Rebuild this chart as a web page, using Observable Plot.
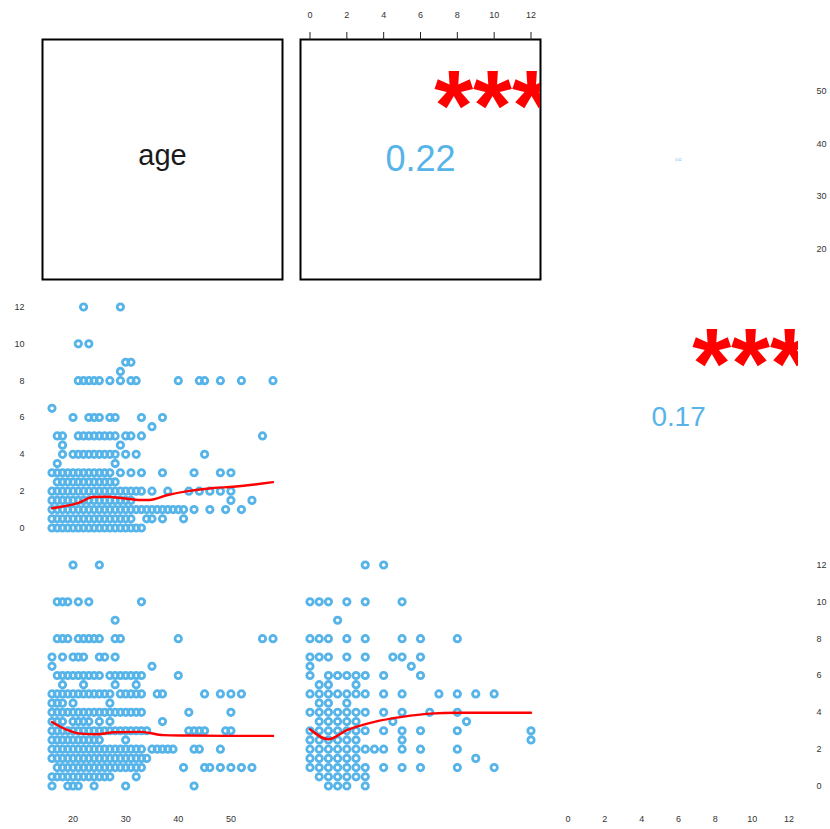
<!DOCTYPE html>
<html><head><meta charset="utf-8">
<script src="https://cdn.jsdelivr.net/npm/d3@7"></script>
<script src="https://cdn.jsdelivr.net/npm/@observablehq/plot@0.6"></script>
<style>
html,body{margin:0;padding:0;background:#fff;overflow:hidden;}
#chart{position:relative;width:830px;height:829px;}
#chart svg{position:absolute;left:0;top:0;}
#chart g[aria-label="dot"]{filter:blur(0.5px);}
#chart g[aria-label="line"]{filter:blur(0.3px);}
</style></head>
<body><div id="chart"></div>
<script>
// ---------- data ----------
const varNames = ["age", "B", "C"];
const ageTicks = [20, 30, 40, 50];
const valTicks = [0, 2, 4, 6, 8, 10, 12];
const ageDomain = [16, 58];
const valDomain = [0, 12];

// panel (row 2, col 1): rows of [B value, ages]
const rowsAgeB = [
  [12, [22, 29]],
  [10, [21, 23]],
  [9, [30, 31]],
  [8.5, [29]],
  [8, [21, 22, 23, 24, 25, 27, 29, 31, 32, 40, 44, 45, 48, 52, 58]],
  [6.5, [16]],
  [6, [20, 23, 24, 25, 27, 28, 33, 37]],
  [5.5, [35]],
  [5, [17, 18, 21, 22, 23, 24, 25, 26, 27, 28, 30, 31, 33, 56]],
  [4.5, [18, 29]],
  [4, [18, 20, 21, 22, 23, 24, 25, 26, 27, 28, 30, 32, 45]],
  [3.5, [17, 28]],
  [3, [16, 17, 18, 19, 20, 21, 22, 23, 24, 25, 26, 27, 29, 31, 33, 37, 43, 48, 50]],
  [2.5, [17, 18, 19, 20, 21, 22, 23, 24, 25, 26, 27, 28]],
  [2, [16, 17, 18, 19, 20, 21, 22, 23, 24, 25, 26, 27, 28, 29, 30, 31, 32, 33, 35, 38, 42, 44, 46, 48, 50]],
  [1.5, [16, 17, 18, 19, 20, 21, 22, 23, 24, 25, 26, 27, 28, 29, 30, 31, 50, 54]],
  [1, [16, 17, 18, 19, 20, 21, 22, 23, 24, 25, 26, 27, 28, 29, 30, 31, 32, 33, 34, 35, 36, 37, 38, 39, 40, 41, 43, 46, 49, 52]],
  [0.5, [16, 17, 18, 19, 20, 21, 22, 23, 24, 25, 26, 27, 28, 29, 30, 31, 34, 35, 37, 41]],
  [0, [16, 17, 18, 19, 20, 21, 22, 23, 24, 25, 26, 27, 28, 29, 30, 31, 32, 33]]
];
const loessAgeB = [[16, 1.07], [21, 1.36], [23.8, 1.68], [26.6, 1.7], [29, 1.63], [33, 1.52], [34.5, 1.52], [38, 1.79], [41.8, 2.0], [46.7, 2.17], [50.5, 2.24], [58, 2.49]];

// panel (row 3, col 1): rows of [C value, ages]
const rowsAgeC = [
  [12, [20, 25]],
  [10, [17, 18, 19, 21, 23, 33]],
  [9, [28]],
  [8, [17, 18, 19, 21, 22, 23, 24, 25, 28, 29, 40, 56, 58]],
  [7, [16, 18, 20, 21, 22, 25, 26, 28]],
  [6.5, [16, 35]],
  [6, [17, 18, 19, 20, 21, 22, 23, 24, 25, 27, 28, 29, 30, 31, 32, 33, 40]],
  [5.5, [18, 22, 28, 32]],
  [5, [16, 17, 18, 19, 20, 21, 22, 23, 24, 25, 26, 27, 29, 30, 31, 32, 33, 36, 37, 45, 48, 50, 52]],
  [4.5, [16, 17, 18, 20, 27]],
  [4, [16, 17, 18, 19, 20, 21, 22, 23, 24, 25, 26, 27, 28, 29, 30, 31, 32, 33, 42, 50]],
  [3.5, [16, 17, 18, 20, 21, 22, 23, 25, 27, 37]],
  [3, [16, 17, 18, 19, 20, 21, 22, 23, 24, 25, 26, 27, 28, 29, 30, 31, 32, 33, 34, 42, 43, 44, 45, 49, 50]],
  [2.5, [16, 17, 18, 19, 20, 21, 22, 23, 24, 25, 30]],
  [2, [16, 17, 18, 19, 20, 21, 22, 23, 24, 25, 26, 27, 28, 29, 30, 31, 32, 33, 35, 36, 37, 38, 39, 43, 44, 48]],
  [1.5, [16, 17, 18, 19, 20, 21, 22, 23, 24, 25, 26, 27, 28, 29, 30, 31, 32, 33, 34]],
  [1, [17, 18, 19, 20, 21, 22, 23, 24, 25, 26, 27, 28, 29, 30, 31, 32, 33, 41, 45, 46, 48, 50, 52, 54]],
  [0.5, [16, 17, 18, 19, 20, 21, 22, 23, 24, 25, 26, 27, 32]],
  [0, [16, 19, 20, 21, 24, 30, 43]]
];
const loessAgeC = [[16, 3.48], [19, 3.03], [21, 2.86], [24.7, 2.81], [27.8, 2.92], [32.9, 2.94], [37.2, 2.76], [41.8, 2.74], [50.5, 2.72], [58, 2.72]];

// panel (row 3, col 2): rows of [C value, B values]
const rowsBC = [
  [12, [3, 4]],
  [10, [0, 0.5, 1, 2, 3, 5]],
  [9, [1.5]],
  [8, [0, 0.5, 1, 2, 3, 5, 6, 8]],
  [7, [0, 0.5, 1, 2, 3, 4.5, 5, 6]],
  [6.5, [0, 5.5]],
  [6, [0, 1, 1.5, 2, 2.5, 3, 4, 6]],
  [5.5, [0.5, 1, 2.5]],
  [5, [0, 0.5, 1, 1.5, 2, 2.5, 3, 4, 5, 7, 8, 9, 10]],
  [4.5, [0.5, 1, 2]],
  [4, [0, 0.5, 1, 1.5, 2, 2.5, 3, 4, 5, 6.5, 8]],
  [3.5, [0.5, 1, 1.5, 2, 2.5, 4.5, 8.5]],
  [3, [0, 0.5, 1, 1.5, 2, 2.5, 3, 4, 5, 6, 8, 12]],
  [2.5, [0, 0.5, 1, 1.5, 2, 2.5, 5, 12]],
  [2, [0, 0.5, 1, 1.5, 2, 2.5, 3, 3.5, 4, 5, 6, 8]],
  [1.5, [0, 0.5, 1, 1.5, 2, 2.5, 9]],
  [1, [0, 0.5, 1, 1.5, 2, 2.5, 3, 4, 5, 6, 8, 10]],
  [0.5, [0.5, 1, 1.5, 2, 2.5, 3]],
  [0, [1, 1.5, 2, 3]]
];
const loessBC = [[0, 3.08], [1, 2.54], [2, 3.03], [3.5, 3.48], [5, 3.75], [6.5, 3.93], [8, 3.98], [12, 3.98]];

// correlation panels: (1,2), (1,3), (2,3)
const corrPanels = [[0, 1], [0, 2], [1, 2]];
const corrR = [0.22, 0.02, 0.17];
const corrStars = ["***", "", "***"];

// ---------- layout ----------
const W = 830, H = 829, S = 240, PAD = 9.5;
const colX = [42, 300, 558], rowY = [39, 297, 555];
const blue = "#56B4E9", red = "#FF0000", ink = "#333";
const font = "'Liberation Sans', Arial, Helvetica, sans-serif";
const chart = document.getElementById("chart");

function layer(row, col, xDomain, yDomain, marks, inset = PAD) {
  const x0 = colX[col], y0 = rowY[row];
  const svg = Plot.plot({
    width: W, height: H,
    marginLeft: x0, marginRight: W - x0 - S, marginTop: y0, marginBottom: H - y0 - S,
    inset,
    x: {domain: xDomain, axis: null, label: null},
    y: {domain: yDomain, axis: null, label: null},
    style: {background: "transparent", fontFamily: font, fontSize: "9px", color: ink, overflow: "visible"},
    marks
  });
  chart.appendChild(svg);
}
const toPoints = rows => rows.flatMap(([y, xs]) => xs.map(x => ({x, y})));
const dots = pts => Plot.dot(pts, {x: "x", y: "y", r: 3.2, stroke: blue, strokeWidth: 2.8, fill: "none"});
const smooth = d => Plot.line(d, {x: d => d[0], y: d => d[1], stroke: red, strokeWidth: 2.4, curve: "monotone-x"});
const axOpts = {label: null, fontSize: 9, fill: ink};

// (1,1) diagonal label
layer(0, 0, [0, 1], [0, 1], [
  Plot.frame({stroke: "#000", strokeWidth: 2}),
  Plot.text([varNames[0]], {frameAnchor: "middle", fontSize: 29, fill: "#1a1a1a", dy: -4})
], 0);

// (1,2) box + top axis
layer(0, 1, valDomain, ageDomain, [
  Plot.frame({stroke: "#000", strokeWidth: 2}),
  Plot.axisX(valTicks, {...axOpts, anchor: "top", tickSize: 8, tickPadding: 14, stroke: "#222", strokeWidth: 1})
]);

// (1,3) right age axis
layer(0, 2, valDomain, ageDomain, [
  Plot.axisY(ageTicks, {...axOpts, anchor: "right", tickSize: 0, tickPadding: 18})
]);

// correlation texts
corrPanels.forEach(([r, c], i) => {
  layer(r, c, [0, 1], [0, 1], [
    Plot.text([corrR[i].toFixed(2)], {x: () => 0.5, y: () => 0.5, fontSize: 164 * corrR[i], fill: blue}),
    Plot.text([corrStars[i]], {x: () => 0.8, y: () => 0.8, fontSize: 100, fontWeight: "bold", fill: red, dy: 20, clip: true})
  ], 0);
});

// (2,1) scatter age vs B
layer(1, 0, ageDomain, valDomain, [
  dots(toPoints(rowsAgeB)),
  smooth(loessAgeB),
  Plot.axisY(valTicks, {...axOpts, anchor: "left", tickSize: 0, tickPadding: 18})
]);

// (3,1) scatter age vs C
layer(2, 0, ageDomain, valDomain, [
  dots(toPoints(rowsAgeC)),
  smooth(loessAgeC),
  Plot.axisX(ageTicks, {...axOpts, anchor: "bottom", tickSize: 0, tickPadding: 20})
]);

// (3,2) scatter B vs C
layer(2, 1, valDomain, valDomain, [
  dots(toPoints(rowsBC)),
  smooth(loessBC)
]);

// (3,3) axes only
layer(2, 2, valDomain, valDomain, [
  Plot.axisX(valTicks, {...axOpts, anchor: "bottom", tickSize: 0, tickPadding: 20}),
  Plot.axisY(valTicks, {...axOpts, anchor: "right", tickSize: 0, tickPadding: 18})
]);
</script></body></html>
